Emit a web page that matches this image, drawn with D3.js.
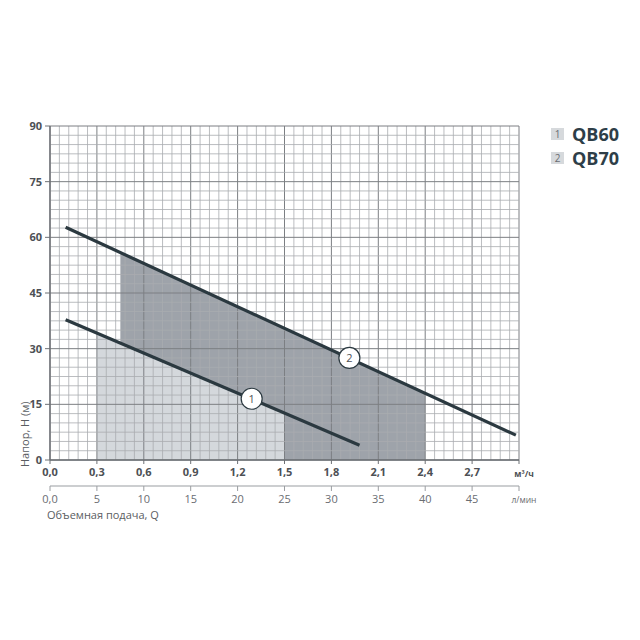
<!DOCTYPE html>
<html>
<head>
<meta charset="utf-8">
<script src="https://cdn.jsdelivr.net/npm/d3@7.9.0/dist/d3.min.js"></script>
<style>
  body { margin: 0; background: #fff; }
  svg { display: block; font-family: "Open Sans", "Noto Sans", sans-serif; }
</style>
</head>
<body>
<svg id="chart" width="640" height="640"></svg>
<script>
// values
const models = ['QB60', 'QB70'];
const headTicks = [0, 15, 30, 45, 60, 75, 90];
const flowM3Ticks = [0, 0.3, 0.6, 0.9, 1.2, 1.5, 1.8, 2.1, 2.4, 2.7];
const flowLminTicks = [0, 5, 10, 15, 20, 25, 30, 35, 40, 45];

// pump curves: [Q m3/h, H m]
const curveQB60 = [[0.1, 37.8], [1.98, 4.0]];
const curveQB70 = [[0.1, 62.7], [2.98, 6.7]];
// working range (shaded) top edge
const areaQB60 = [[0.3, 34.2], [1.5, 12.6]];
const areaQB70 = [[0.45, 55.9], [2.4, 17.8]];
// circle marker positions
const markQB60 = [1.29, 16.5];
const markQB70 = [1.915, 27.5];

const svg = d3.select('#chart');
const mLeft = 50, mRight = 519, mTop = 126, mBottom = 460;

const x = d3.scaleLinear().domain([0, 3.0]).range([mLeft, mRight]);
const xl = d3.scaleLinear().domain([0, 50]).range([mLeft, mRight]);
const y = d3.scaleLinear().domain([0, 90]).range([mBottom, mTop]);

// shaded working ranges (QB70 under QB60)
const area = d3.area().x(d => x(d[0])).y0(y(0)).y1(d => y(d[1]));
svg.append('path').datum(areaQB70).attr('d', area).attr('fill', '#9ea3aa');
svg.append('path').datum(areaQB60).attr('d', area).attr('fill', '#d4d8dc');

// grid
const g = svg.append('g');
d3.range(0, 51).forEach(i => {
  g.append('line')
    .attr('x1', xl(i)).attr('x2', xl(i))
    .attr('y1', y(0)).attr('y2', y(90))
    .attr('stroke', i % 5 === 0 ? '#7c7f83' : '#a9acb0')
    .attr('stroke-width', i % 5 === 0 ? 1 : 0.8);
});
d3.range(0, 90.1, 2.5).forEach(v => {
  g.append('line')
    .attr('x1', x(0)).attr('x2', x(3.0))
    .attr('y1', y(v)).attr('y2', y(v))
    .attr('stroke', v % 15 === 0 ? '#7c7f83' : '#a9acb0')
    .attr('stroke-width', v % 15 === 0 ? 1 : 0.8);
});

// axes lines
svg.append('line').attr('x1', mLeft).attr('x2', mLeft).attr('y1', mTop).attr('y2', mBottom)
  .attr('stroke', '#6d7075').attr('stroke-width', 1.4);
svg.append('line').attr('x1', mLeft).attr('x2', mRight).attr('y1', mBottom).attr('y2', mBottom)
  .attr('stroke', '#6d7075').attr('stroke-width', 1.4);

// y tick labels
svg.append('g').selectAll('text').data(headTicks).join('text')
  .attr('x', 42).attr('y', d => y(d) + 4)
  .attr('text-anchor', 'end')
  .attr('font-size', 11).attr('font-weight', 'bold').attr('fill', '#4d5055')
  .text(d => d);
svg.append('g').selectAll('line').data(headTicks).join('line')
  .attr('x1', 45).attr('x2', mLeft).attr('y1', d => y(d)).attr('y2', d => y(d))
  .attr('stroke', '#6d7075');

// x ticks m3/h
const fmt = d => d.toFixed(1).replace('.', ',');
svg.append('g').selectAll('line').data(flowM3Ticks.concat([3.0])).join('line')
  .attr('x1', d => x(d)).attr('x2', d => x(d)).attr('y1', mBottom).attr('y2', mBottom + 4)
  .attr('stroke', '#6d7075');
svg.append('g').selectAll('text').data(flowM3Ticks).join('text')
  .attr('x', d => x(d)).attr('y', 476)
  .attr('text-anchor', 'middle')
  .attr('font-size', 11).attr('font-weight', 'bold').attr('fill', '#4d5055')
  .text(fmt);
svg.append('text').attr('x', x(3.0) + 5).attr('y', 477).attr('text-anchor', 'middle')
  .attr('font-size', 8.5).attr('font-weight', 'bold').attr('fill', '#4d5055')
  .text('м³/ч');

// second axis l/min
svg.append('line').attr('x1', mLeft).attr('x2', mRight).attr('y1', 486).attr('y2', 486)
  .attr('stroke', '#9a9da1').attr('stroke-width', 1.2);
svg.append('g').selectAll('line').data(flowLminTicks.concat([50])).join('line')
  .attr('x1', d => xl(d)).attr('x2', d => xl(d)).attr('y1', 486).attr('y2', 491)
  .attr('stroke', '#9a9da1');
svg.append('g').selectAll('text').data(flowLminTicks).join('text')
  .attr('x', d => xl(d)).attr('y', 503)
  .attr('text-anchor', 'middle')
  .attr('font-size', 11).attr('fill', '#6a6d72')
  .text(d => d === 0 ? '0,0' : d);
svg.append('text').attr('x', xl(50) + 5).attr('y', 503).attr('text-anchor', 'middle')
  .attr('font-size', 8.5).attr('fill', '#6a6d72')
  .text('л/мин');

svg.append('text').attr('x', 47).attr('y', 519)
  .attr('font-size', 11).attr('fill', '#5a5d62')
  .text('Объемная подача, Q');

svg.append('text')
  .attr('transform', 'translate(29,467) rotate(-90)')
  .attr('font-size', 11).attr('fill', '#5a5d62')
  .text('Напор, Н (м)');

// curves
const line = d3.line().x(d => x(d[0])).y(d => y(d[1]));
[curveQB60, curveQB70].forEach(c => {
  svg.append('path').datum(c).attr('d', line)
    .attr('fill', 'none').attr('stroke', '#2b3940').attr('stroke-width', 3.2);
});

// markers
[markQB60, markQB70].forEach((m, i) => {
  svg.append('circle').attr('cx', x(m[0])).attr('cy', y(m[1])).attr('r', 10.5)
    .attr('fill', '#fff').attr('stroke', '#2b3940').attr('stroke-width', 1.2);
  svg.append('text').attr('x', x(m[0])).attr('y', y(m[1]) + 4)
    .attr('text-anchor', 'middle').attr('font-size', 11).attr('fill', '#4d5055')
    .text(i + 1);
});

// legend
models.forEach((name, i) => {
  const ly = 128 + i * 24;
  svg.append('rect').attr('x', 551).attr('y', ly).attr('width', 13).attr('height', 12)
    .attr('fill', '#d6d9dc');
  svg.append('text').attr('x', 557.5).attr('y', ly + 10)
    .attr('text-anchor', 'middle').attr('font-size', 10).attr('fill', '#6a6d72')
    .text(i + 1);
  svg.append('text').attr('x', 572).attr('y', ly + 13)
    .attr('font-size', 18).attr('font-weight', 'bold').attr('fill', '#2e3e48')
    .text(name);
});
</script>
</body>
</html>
